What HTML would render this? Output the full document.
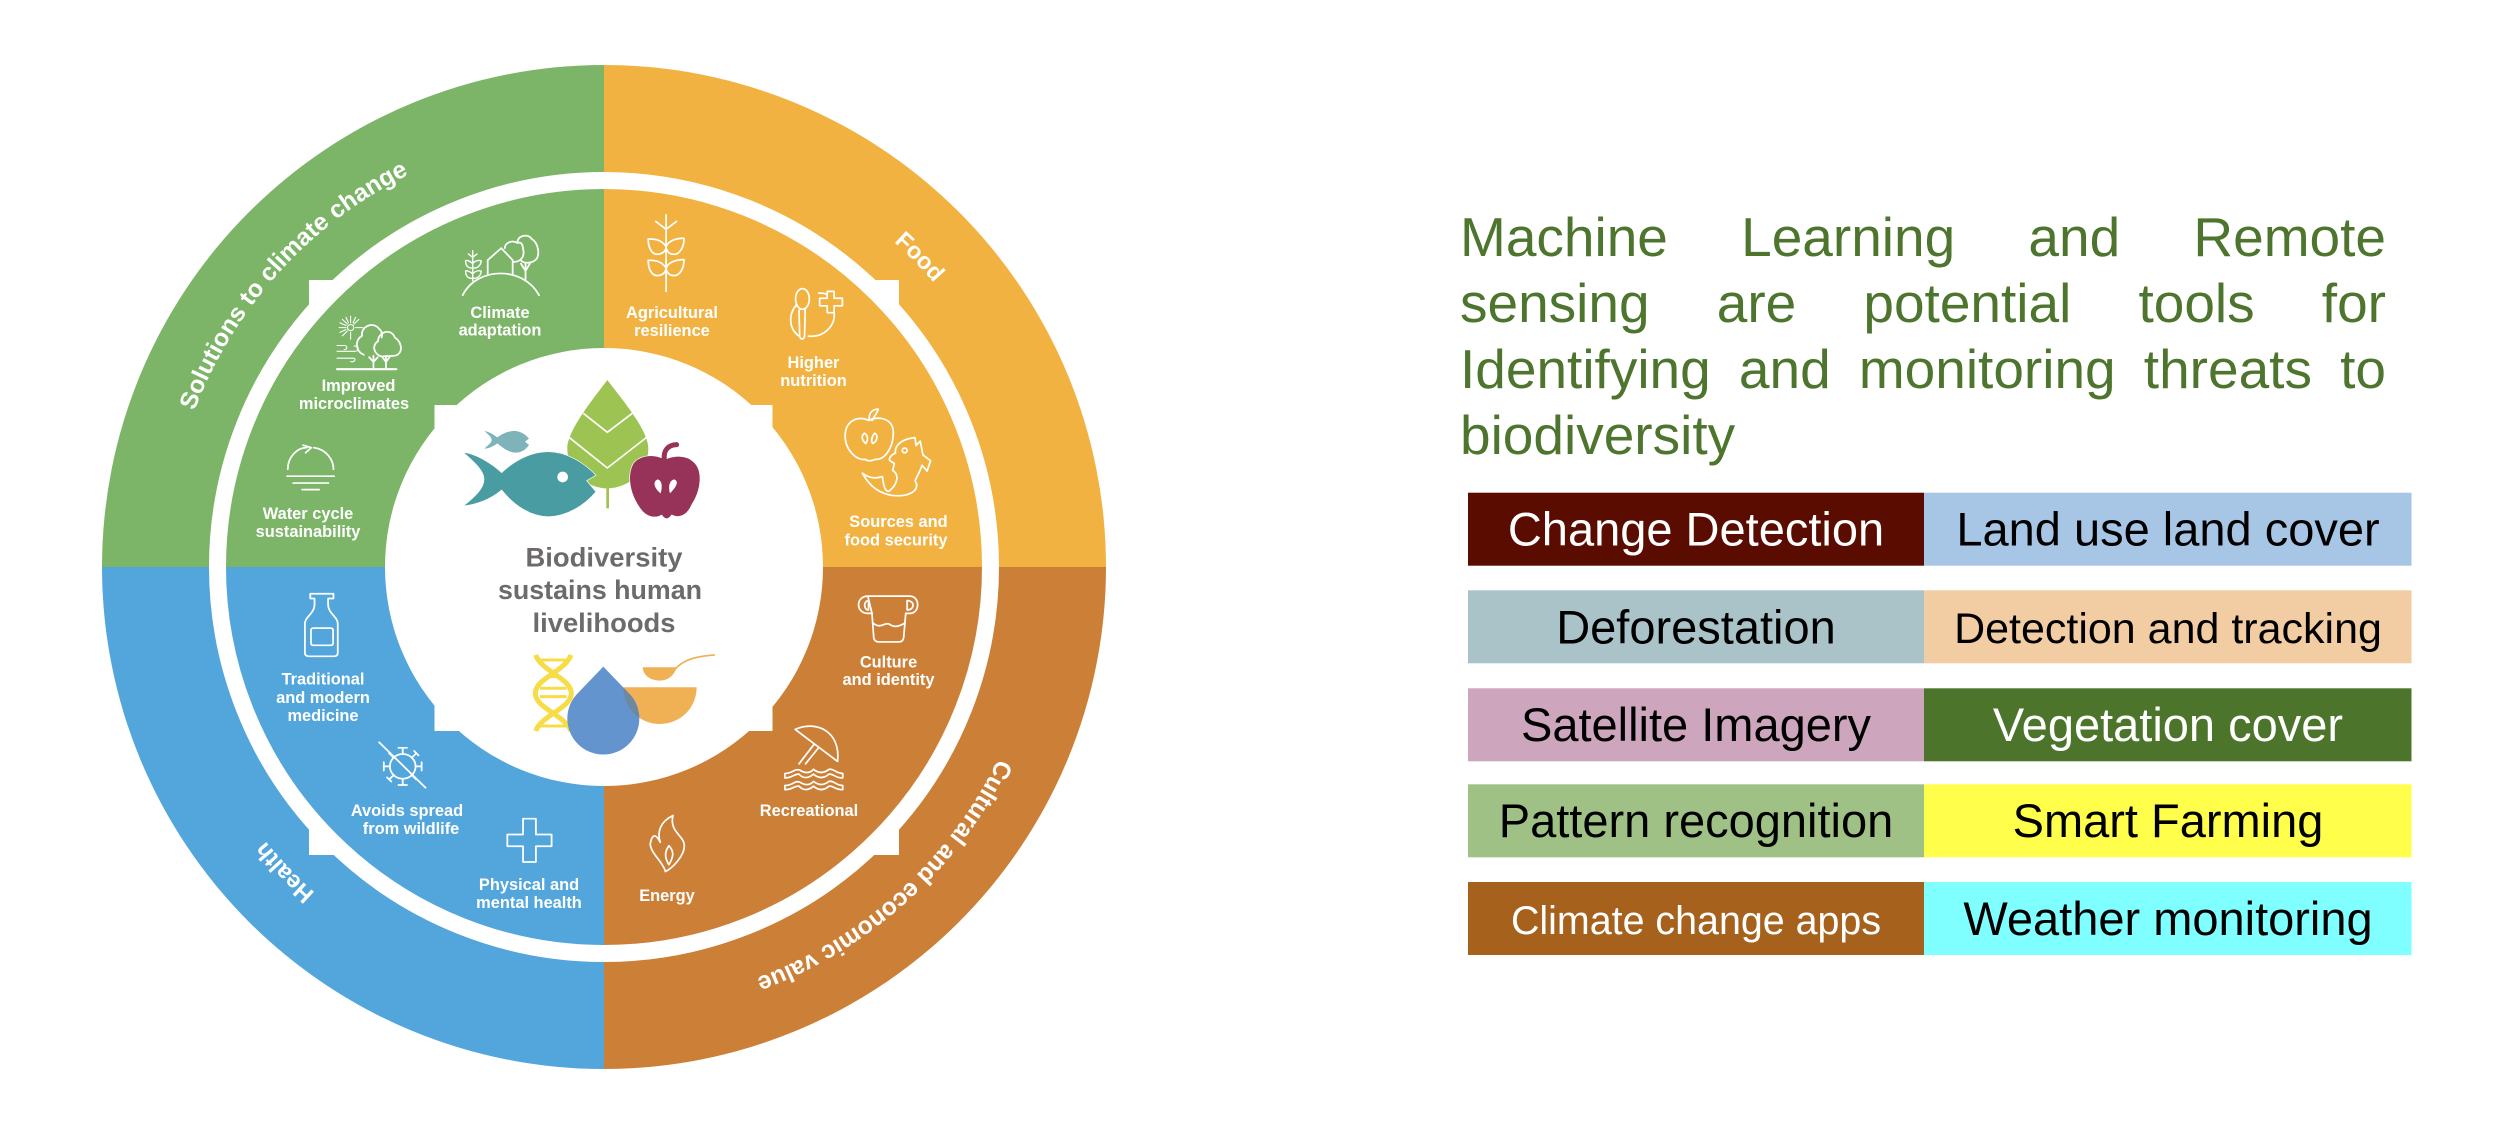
<!DOCTYPE html>
<html><head><meta charset="utf-8"><style>
html,body{margin:0;padding:0;background:#fff;width:2500px;height:1126px;overflow:hidden}
svg{position:absolute;left:0;top:0}
#p{position:absolute;left:1460px;top:203.5px;width:926px;font:55px/66px "Liberation Sans",sans-serif;color:#4D752D}
#p div{text-align:justify;text-align-last:justify}
#p div:last-child{text-align-last:left}
.l{font:bold 16.4px "Liberation Sans",sans-serif;fill:#fff;text-anchor:middle}
.a{font:bold 24.6px "Liberation Sans",sans-serif;fill:#fff;text-anchor:middle}
.c{font:bold 27px "Liberation Sans",sans-serif;fill:#6D6A6B;text-anchor:middle}
.t{font:47px "Liberation Sans",sans-serif;text-anchor:middle}
.i{fill:none;stroke:#fff;stroke-width:5;stroke-linejoin:round;stroke-linecap:round}
</style></head><body>
<svg width="2500" height="1126" viewBox="0 0 2500 1126" xmlns="http://www.w3.org/2000/svg">
<defs>
<path id="arc" d="M225 348 A437 437 0 0 1 983 348"/>
<path id="arcf" d="M227 349.500 A435 435 0 0 1 981 349.500"/>
<clipPath id="dropc"><path transform="translate(420,350) scale(.3333)" d="M550 950 L474 1029 A108 108 0 1 0 626 1029Z"/></clipPath>
</defs>
<path d="M604 567 L604 65 A502 502 0 0 1 1106 567Z" fill="#F1B241"/>
<path d="M604 567 L1106 567 A502 502 0 0 1 604 1069Z" fill="#CC8037"/>
<path d="M604 567 L604 1069 A502 502 0 0 1 102 567Z" fill="#53A6DC"/>
<path d="M604 567 L102 567 A502 502 0 0 1 604 65Z" fill="#7CB568"/>
<circle cx="604" cy="567" r="386.5" fill="none" stroke="#fff" stroke-width="17"/>
<g fill="#fff">
<polygon points="309,280 339,280 309,310"/>
<polygon points="899,280 869,280 899,310"/>
<polygon points="309,855 339,855 309,825"/>
<polygon points="899,855 869,855 899,825"/>
<circle cx="604" cy="567" r="219"/>
<polygon points="434.500,405 464,405 434.500,435"/>
<polygon points="772.500,405 743,405 772.500,435"/>
<polygon points="434.500,731 464,731 434.500,701"/>
<polygon points="772.500,731 743,731 772.500,701"/>
</g>
<!-- arc texts -->
<text class="a" transform="rotate(-47.800 604 567)"><textPath href="#arc" startOffset="50%">Solutions to climate change</textPath></text>
<text class="a" transform="rotate(45.500 604 567)" style="font-size:23.5px"><textPath href="#arcf" startOffset="50%">Food</textPath></text>
<text class="a" transform="rotate(137.800 604 567)"><textPath href="#arc" startOffset="50%">Cultural and economic value</textPath></text>
<text class="a" transform="rotate(226.300 604 567)" style="font-size:23.5px"><textPath href="#arcf" startOffset="50%">Health</textPath></text>
<!-- center -->
<text class="c" x="604" y="566.500" textLength="157" lengthAdjust="spacingAndGlyphs">Biodiversity</text>
<text class="c" x="600" y="599" textLength="204" lengthAdjust="spacingAndGlyphs">sustains human</text>
<text class="c" x="604" y="632" textLength="143" lengthAdjust="spacingAndGlyphs">livelihoods</text>
<g transform="translate(420,350) scale(.3333)">
<path d="M562 90 C600 140 685 240 685 295 C685 370 620 415 562 415 C505 415 442 370 442 295 C442 240 525 140 562 90Z" fill="#9DC452"/>
<rect x="559" y="410" width="8" height="65" fill="#9DC452"/>
<path d="M490 190 L562 247 L637 190 M447 262 L562 354 L680 262" fill="none" stroke="#fff" stroke-width="5"/>
<path d="M130 307 C165 310 215 340 245 368 C290 325 340 305 385 305 C440 305 495 340 528 376 L500 392 L528 425 C495 465 440 500 385 500 C335 500 285 470 245 420 C210 450 165 465 130 468 C165 440 192 415 192 388 C192 360 160 335 130 307Z" fill="#4A9CA3" stroke="#fff" stroke-width="2"/>
<circle cx="428" cy="381" r="16" fill="#fff"/>
<path d="M193 243 C208 245 222 255 232 262 C250 248 270 242 287 243 C305 245 318 255 327 266 L315 275 L327 285 C318 298 305 308 287 308 C268 308 250 295 232 280 C222 288 208 295 193 296 C205 285 215 278 215 270 C215 262 205 253 193 243Z" fill="#7FB3BA"/>
<path d="M735 328 C700 310 660 315 640 340 C620 375 628 430 660 475 C680 505 710 505 725 495 C735 510 745 510 755 495 C775 505 800 500 815 465 C845 420 850 360 820 335 C800 315 765 315 735 328Z" fill="#973359" stroke="#fff" stroke-width="2"/>
<path d="M733 328 C730 300 745 285 770 284" fill="none" stroke="#973359" stroke-width="15" stroke-linecap="round"/>
<path d="M714 388 C700 392 698 410 722 430 C728 410 726 392 714 388Z M762 388 C775 392 775 405 750 430 C744 410 748 392 762 388Z" fill="#fff"/>
<g fill="none" stroke="#F8DC47" stroke-width="15">
<path d="M347 915 C365 965 454 985 454 1030 C454 1075 365 1095 347 1143"/>
<path d="M453 915 C435 965 346 985 346 1030 C346 1075 435 1095 453 1143"/>
<path stroke-width="9" d="M352 930 H448 M385 980 H415 M360 1015 H440 M360 1040 H440 M385 1085 H415 M352 1128 H448"/>
</g>
<path d="M668 952 H770 C760 985 735 992 720 992 C695 992 670 980 668 952Z" fill="#F0B154"/>
<path d="M762 962 C790 925 840 918 885 915" fill="none" stroke="#F0B154" stroke-width="5"/>
<path d="M610 1012 H830 C830 1075 780 1122 720 1122 C660 1122 610 1075 610 1012Z" fill="#F0B154"/>
<path d="M550 950 L474 1029 A108 108 0 1 0 626 1029Z" fill="#6394CD"/>
</g>
<g clip-path="url(#dropc)"><path transform="translate(420,350) scale(.3333)" d="M610 1012 H830 C830 1075 780 1122 720 1122 C660 1122 610 1075 610 1012Z" fill="#6E87A3"/></g>
<!-- labels -->
<g>
<text class="l" x="500" y="318">Climate</text><text class="l" x="500" y="335.500">adaptation</text>
<text class="l" x="358.500" y="391">Improved</text><text class="l" x="354" y="409">microclimates</text>
<text class="l" x="308" y="519">Water cycle</text><text class="l" x="308" y="537">sustainability</text>
<text class="l" x="672" y="318">Agricultural</text><text class="l" x="672" y="336">resilience</text>
<text class="l" x="813.500" y="368">Higher</text><text class="l" x="813.500" y="386">nutrition</text>
<text class="l" x="898.500" y="527">Sources and</text><text class="l" x="896" y="545.500">food security</text>
<text class="l" x="323" y="684.500">Traditional</text><text class="l" x="323" y="703">and modern</text><text class="l" x="323" y="721">medicine</text>
<text class="l" x="407" y="816">Avoids spread</text><text class="l" x="411" y="834">from wildlife</text>
<text class="l" x="529" y="890">Physical and</text><text class="l" x="529" y="908">mental health</text>
<text class="l" x="888.500" y="667.500">Culture</text><text class="l" x="888.500" y="685">and identity</text>
<text class="l" x="809" y="816">Recreational</text>
<text class="l" x="667" y="901">Energy</text>
</g>
<!-- icons: top-left -->
<g class="i" transform="matrix(.357 0 0 .344 80 40)">
<path d="M1072 742 C1110 660 1240 655 1286 742"/>
<g stroke-width="4">
<path d="M1100 612 V700 M1088 622 L1100 632 L1112 622"/>
<path d="M1100 650 C1090 640 1082 640 1080 642 C1080 660 1092 665 1100 662 C1108 665 1122 660 1124 642 C1118 640 1108 640 1100 650Z M1100 680 C1090 670 1082 670 1080 672 C1080 690 1092 695 1100 692 C1108 695 1122 690 1124 672 C1118 670 1108 670 1100 680Z"/>
</g>
<path d="M1142 680 V640 L1180 605 L1212 640 V680"/>
<path d="M1190 605 C1190 590 1210 580 1225 590 C1240 585 1240 600 1242 612 C1245 630 1235 645 1215 645"/>
<path d="M1226 590 C1222 570 1255 560 1265 578 C1285 590 1290 630 1275 640 C1265 650 1240 650 1235 640"/>
<path d="M1248 650 V695 M1235 650 L1246 668 M1260 650 L1250 668"/>
<g stroke-width="3">
<circle cx="758" cy="836" r="9"/>
<path d="M758 803 V822 M758 850 V870 M726 836 H745 M772 836 H792 M735 812 L749 826 M781 812 L767 826 M735 860 L749 846 M745 806 L752 822 M772 806 L765 822 M728 822 L745 830 M728 850 L745 842"/>
</g>
<path d="M795 915 C770 905 770 870 790 860 C785 835 820 815 838 840 C850 850 845 860 845 865"/>
<path d="M845 920 C825 915 815 890 835 875 C835 850 870 835 882 865 C905 880 905 915 880 918 Z"/>
<path d="M822 918 V952 M810 922 L822 936 M834 922 L822 936 M857 918 V952 M847 922 L857 936 M867 922 L857 936"/>
<path d="M720 957 H886" stroke-width="6"/>
<path stroke-width="3" d="M720 905 H770 C785 905 780 885 768 890 M720 888 H740 C750 888 750 900 740 900 M720 925 H765 C775 925 770 938 758 935"/>
<path d="M582 1248 C582 1210 610 1185 635 1185 M655 1185 C690 1190 710 1220 710 1248"/>
<path d="M625 1178 L648 1185 L632 1200"/>
<path d="M580 1268 H712 M597 1288 H696 M622 1307 H670"/>
</g>
<!-- icons: top-right -->
<g class="i" transform="translate(600 40) scale(.3443)">
<path d="M192 508 V730 M162 527 L192 550 L222 527"/>
<path d="M192 600 C175 575 150 578 140 578 C140 610 155 625 170 622 C185 620 192 610 192 600 C200 580 230 575 244 576 C244 610 225 625 212 622 C200 622 192 610 192 600Z"/>
<path d="M192 662 C175 637 150 640 140 640 C140 672 155 687 170 684 C185 682 192 672 192 662 C200 642 230 637 244 638 C244 672 225 687 212 684 C200 684 192 672 192 662Z"/>
<path d="M635 735 C660 735 660 740 660 745 M680 790 C685 830 650 865 605 860 M570 770 C545 800 550 840 578 860"/>
<ellipse cx="588" cy="752" rx="20" ry="30"/>
<path d="M578 785 L580 862 Q587 875 594 862 L596 785"/>
<path d="M660 730 H680 V750 H704 V772 H680 V792 H660 V772 H638 V750 H660Z"/>
<path d="M780 1105 C750 1090 712 1105 712 1150 C712 1190 745 1222 770 1218 C780 1225 790 1222 800 1218 C830 1220 852 1180 852 1140 C852 1100 810 1090 780 1105Z"/>
<path d="M782 1103 C780 1085 790 1072 808 1072 C805 1085 795 1095 790 1105"/>
<path d="M768 1142 C758 1150 760 1162 772 1172 C780 1160 778 1148 768 1142Z M798 1142 C790 1150 786 1165 792 1172 C806 1165 808 1148 798 1142Z"/>
<path d="M915 1155 C880 1158 855 1175 858 1200 C845 1205 838 1215 842 1222 L855 1230 L850 1250 C870 1262 865 1290 840 1310 C825 1315 822 1280 820 1268 C800 1275 780 1272 762 1258 C790 1310 835 1330 885 1322 C920 1315 925 1295 915 1280 C925 1260 935 1240 935 1235 L950 1252 L960 1222 L938 1205 L930 1165 L918 1178Z"/>
<circle cx="885" cy="1192" r="7"/>
</g>
<!-- icons: bottom-left -->
<g class="i" transform="matrix(.357 0 0 .344 80 560)">
<path d="M645 98 H710 V112 H695 V130 C695 155 722 165 722 185 V270 Q722 280 712 280 H642 Q630 280 630 270 V185 C630 165 657 155 657 130 V112 H645Z"/>
<rect x="647" y="198" width="62" height="50" rx="6"/>
<circle cx="904" cy="600" r="36"/>
<path d="M838 530 L968 662"/>
<path d="M904 564 V546 M892 546 H916 M904 636 V654 M892 654 H916 M868 600 H851 M851 588 V612 M940 600 H957 M957 588 V612 M879 575 L866 562 M929 575 L942 562 M936 555 L948 568 M879 625 L866 638 M860 632 L872 644 M929 625 L942 638"/>
<path d="M1241 752 H1277 V798 H1321 V832 H1277 V878 H1241 V832 H1197 V798 H1241Z"/>
</g>
<!-- icons: bottom-right -->
<g class="i" transform="translate(600 560) scale(.3443)">
<path d="M778 105 H900 C930 105 930 155 900 155 H888 M790 155 H778 C742 155 742 105 778 105Z"/>
<path d="M780 118 C765 118 765 145 780 145Z M892 118 C915 118 915 145 892 145Z"/>
<path d="M790 155 L795 225 Q797 238 810 238 H868 Q880 238 882 225 L888 155"/>
<path d="M793 183 C815 202 825 180 840 186 C855 198 870 192 886 183"/>
<path d="M567 492 C625 465 700 495 690 585 Z"/>
<path d="M622 535 L578 592 M635 545 L597 592"/>
<path d="M537 633 V620 C560 620 565 605 580 610 C595 620 610 620 620 608 C635 620 650 620 665 608 C680 605 685 620 705 620 V633 C680 633 680 620 665 622 C650 635 635 635 620 622 C605 635 590 635 578 622 C565 620 560 633 537 633Z"/>
<path d="M537 667 V655 C560 655 565 640 580 645 C595 655 610 655 620 643 C635 655 650 655 665 643 C680 640 685 655 705 655 V667 C680 667 680 655 665 657 C650 670 635 670 620 657 C605 670 590 670 578 657 C565 655 560 667 537 667Z"/>
<path d="M212 742 C175 760 165 790 175 820 C160 790 150 800 146 825 C146 850 185 880 190 905 C210 895 245 860 245 830 C245 800 200 790 212 742Z"/>
<path d="M200 830 C190 845 185 860 200 885 C215 860 215 845 200 830Z"/>
</g>
<!-- table -->
<g>
<rect x="1468" y="492.700" width="456" height="73" fill="#5B0C00"/><rect x="1924" y="492.700" width="487.500" height="73" fill="#A7C5E5"/>
<rect x="1468" y="590.300" width="456" height="73" fill="#A9C3C8"/><rect x="1924" y="590.300" width="487.500" height="73" fill="#F2CCA2"/>
<rect x="1468" y="688.300" width="456" height="73" fill="#CDA6BD"/><rect x="1924" y="688.300" width="487.500" height="73" fill="#4C742B"/>
<rect x="1468" y="784.300" width="456" height="73" fill="#9FC185"/><rect x="1924" y="784.300" width="487.500" height="73" fill="#FFFF4B"/>
<rect x="1468" y="882" width="456" height="73" fill="#A6611C"/><rect x="1924" y="882" width="487.500" height="73" fill="#7FFFFF"/>
<text class="t" x="1696" y="545.700" fill="#fff">Change Detection</text>
<text class="t" x="2168" y="545.700" fill="#000">Land use land cover</text>
<text class="t" x="1696" y="643.300" fill="#000">Deforestation</text>
<text class="t" x="2168" y="643" fill="#000" style="font-size:43px">Detection and tracking</text>
<text class="t" x="1696" y="741" fill="#000">Satellite Imagery</text>
<text class="t" x="2168" y="741" fill="#fff">Vegetation cover</text>
<text class="t" x="1696" y="837" fill="#000">Pattern recognition</text>
<text class="t" x="2168" y="837" fill="#000">Smart Farming</text>
<text class="t" x="1696" y="934" fill="#fff" style="font-size:39.400px">Climate change apps</text>
<text class="t" x="2168" y="935" fill="#000">Weather monitoring</text>
</g>
</svg>
<div id="p"><div>Machine Learning and Remote</div><div>sensing are potential tools for</div><div>Identifying and monitoring threats to</div><div>biodiversity</div></div>
</body></html>
